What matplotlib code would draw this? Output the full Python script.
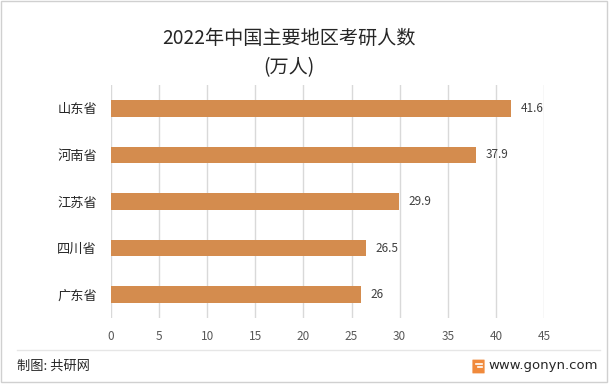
import matplotlib
matplotlib.use("Agg")
import matplotlib.pyplot as plt
from matplotlib.patches import Rectangle, FancyBboxPatch
from matplotlib.lines import Line2D

plt.rcParams['font.family'] = ['Noto Sans CJK SC', 'DejaVu Sans']

categories = ["山东省", "河南省", "江苏省", "四川省", "广东省"]
values = [41.6, 37.9, 29.9, 26.5, 26]
xticks = [0, 5, 10, 15, 20, 25, 30, 35, 40, 45]
title_line1 = "2022年中国主要地区考研人数"
title_line2 = "(万人)"
source_text = "制图: 共研网"
site_text = "www.gonyn.com"

W, H = 612, 384
fig = plt.figure(figsize=(W / 100, H / 100), dpi=100)

def fx(px):
    return px / W

def fy(py):
    return 1 - py / H

ax = fig.add_axes([fx(111), fy(318), fx(544) - fx(111), fy(85) - fy(318)])
ax.patch.set_alpha(0)
y = list(range(len(categories)))
ax.barh(y, values, height=0.36, color="#D48C4E", zorder=3)
ax.set_xlim(0, 45)
ax.set_ylim(len(categories) - 0.5, -0.5)
ax.set_yticks(y)
ax.set_yticklabels(categories, fontsize=9.5, color="#262626")
ax.set_xticks(xticks)
ax.set_xticklabels([str(t) for t in xticks], fontsize=8.5, color="#595959")
ax.tick_params(axis="both", length=0)
ax.tick_params(axis="x", pad=9)
ax.tick_params(axis="y", pad=10)
ax.grid(axis="x", color="#D9D9D9", linewidth=1, zorder=0)
for s in ax.spines.values():
    s.set_visible(False)

for yi, v in zip(y, values):
    ax.text(v + 1.0, yi, f"{v:g}", va="center", ha="left", fontsize=8.5,
            color="#404040", zorder=4)

fig.text(fx(289), fy(38), title_line1, ha="center", va="center", fontsize=13.8, color="#262626")
fig.text(fx(289), fy(68), title_line2, ha="center", va="center", fontsize=13.8, color="#262626")

# footer
fig.add_artist(Line2D([fx(17), fx(600)], [fy(350), fy(350)], color="#E6E6E6", linewidth=1))
fig.text(fx(17), fy(366), source_text, ha="left", va="center", fontsize=9.5, color="#262626")
fig.text(fx(598), fy(366), site_text, ha="right", va="center", fontsize=9.5, color="#262626",
         family=["DejaVu Sans"])
# small logo icon
fig.add_artist(FancyBboxPatch((fx(473), fy(373)), fx(11), fy(360) - fy(373),
                              boxstyle="round,pad=0.001", facecolor="#F08A3C", edgecolor="none"))
fig.add_artist(Line2D([fx(475.5), fx(481.5)], [fy(363.5), fy(363.5)], color="white", linewidth=1.2))
fig.add_artist(Line2D([fx(478), fx(481.5)], [fy(367), fy(367)], color="white", linewidth=1.2))

# outer border
fig.add_artist(Rectangle((fx(1), fy(382)), fx(606), fy(1) - fy(382), fill=False,
                         edgecolor="#D0D0D0", linewidth=1))

fig.savefig("out.png", dpi=100)
